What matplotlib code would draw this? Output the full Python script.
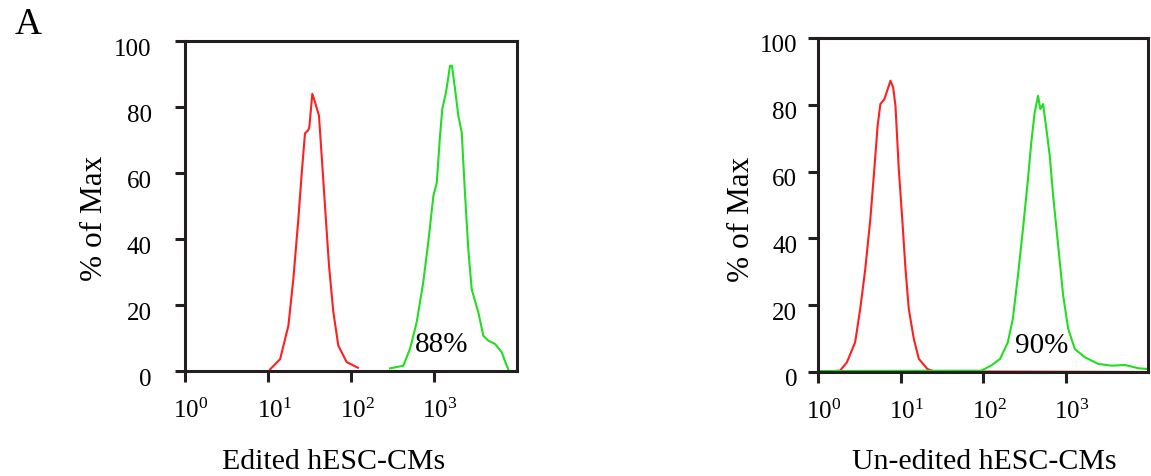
import numpy as np
import matplotlib
matplotlib.use("Agg")
from matplotlib import pyplot as plt
from matplotlib.ticker import NullLocator
from matplotlib.transforms import ScaledTranslation

plt.rcParams['font.family'] = ['Liberation Serif', 'DejaVu Serif']
plt.rcParams['mathtext.default'] = 'regular'

# Edited hESC-CMs (left panel)
edited_ctrl_x = [10.6, 14.0, 17.6, 20.2, 23.2, 25.5, 27.9, 30.6, 31.5, 34.2, 36.8, 41.1,
                 44.4, 48.6, 54.3, 61.2, 70.3, 88.7, 121]
edited_ctrl_y = [0.5, 3.6, 13.7, 27.9, 46, 60, 72, 73, 74, 84, 81.5, 77.4,
                 65, 50, 32, 18, 7.7, 2.7, 1]
edited_stain_x = [295, 427, 514, 619, 743, 853, 982, 1079, 1180, 1259, 1396, 1560, 1648,
                  1791, 1963, 2158, 2360, 2588, 2844, 3420, 3926, 4508, 5433, 6546, 7516, 7852]
edited_stain_y = [0.8, 1.6, 6.7, 14.8, 27, 39, 53, 57, 71, 79.4, 84.5, 92.5, 92.5,
                  85.5, 77.4, 72.3, 54, 37, 24.8, 17.8, 10.7, 9.2, 8.2, 5.7, 1.6, 0.6]

# Un-edited hESC-CMs (right panel)
unedited_ctrl_x = [1.0, 1.85, 2.24, 2.82, 3.25, 3.74, 4.31, 4.82, 5.28, 5.70, 6.38, 7.00,
                   7.55, 8.15, 8.69, 9.53, 10.5, 11.5, 12.6, 14.5, 16.7, 21.2, 25.5, 8000]
unedited_ctrl_y = [0, 0.4, 2.9, 8.9, 18.9, 30.8, 45.8, 60.8, 73.7, 80.2, 81.7, 84.7,
                   87.2, 85.2, 79.7, 60.8, 45.8, 30.8, 18.9, 9.9, 3.9, 0.9, 0.2, 0]
unedited_stain_x = [1.0, 54, 95, 125, 161, 200, 230, 265, 305, 351, 385, 423, 465, 495,
                    535, 586, 644, 708, 815, 938, 1079, 1297, 1718, 2506, 3639, 5284, 7709, 10000]
unedited_stain_y = [0.3, 0.4, 0.4, 1.9, 3.9, 8.9, 15.9, 28.8, 42.8, 57.8, 68.8, 77.7, 82.7,
                    78.7, 80.2, 72.8, 64.8, 52.8, 37.8, 22.8, 12.9, 6.9, 4.4, 2.4, 1.9, 2.1, 1.1, 0.9]

panel_labels = ["Edited hESC-CMs", "Un-edited hESC-CMs"]
percent_labels = ["88%", "90%"]
percent_pos = [(590, 6), (241, 6)]

x_ticks = [1, 10, 100, 1000]
x_tick_labels = [r'$10^{%d}$' % i for i in range(4)]
y_ticks = [0, 20, 40, 60, 80, 100]

red = '#ff1f1f'
green = '#22dd22'
dark = '#231f20'

fig = plt.figure(figsize=(11.51, 4.77), dpi=100)
W, H = 1151, 477
ax1 = fig.add_axes([185 / W, 1 - 372 / H, (517 - 185) / W, (372 - 42) / H])
ax2 = fig.add_axes([818 / W, 1 - 373 / H, (1148 - 818) / W, (373 - 39) / H])

ax1.plot(edited_ctrl_x, edited_ctrl_y, color=red, lw=1.5)
ax1.plot(edited_stain_x, edited_stain_y, color=green, lw=1.5)
ax2.plot(unedited_ctrl_x, unedited_ctrl_y, color=red, lw=1.5)
ax2.plot(unedited_stain_x, unedited_stain_y, color=green, lw=1.5)

for i, ax in enumerate([ax1, ax2]):
    ax.set_xscale('log')
    ax.set_xlim(1, 10000)
    ax.set_ylim(0, 100)
    ax.set_xticks(x_ticks)
    ax.set_xticklabels(x_tick_labels)
    ax.xaxis.set_minor_locator(NullLocator())
    ax.set_yticks(y_ticks)
    for s in ax.spines.values():
        s.set_linewidth(2.2)
        s.set_color(dark)
    ax.tick_params(axis='x', length=8, width=2.2, color=dark, pad=11, labelsize=18)
    ax.tick_params(axis='y', length=7, width=2.2, color=dark,
                   pad=17 if i == 0 else 8, labelsize=18)
    for lab in ax.get_xticklabels():
        lab.set_transform(lab.get_transform() + ScaledTranslation(6 / 100, 0, fig.dpi_scale_trans))
    for lab in ax.get_yticklabels():
        lab.set_transform(lab.get_transform() + ScaledTranslation(0, -5 / 100, fig.dpi_scale_trans))
    px, py = percent_pos[i]
    ax.text(px, py, percent_labels[i], fontsize=21, ha='left', va='baseline')

fig.text(334 / W, 1 - 462 / H, panel_labels[0], fontsize=21.5, ha='center', va='center')
fig.text(984 / W, 1 - 462 / H, panel_labels[1], fontsize=21.5, ha='center', va='center')
fig.text(94 / W, 1 - 218 / H, "% of Max", fontsize=22.5, rotation=90, ha='center', va='center')
fig.text(742 / W, 1 - 219 / H, "% of Max", fontsize=22.5, rotation=90, ha='center', va='center')
fig.text(28 / W, 1 - 25 / H, "A", fontsize=27, ha='center', va='center')

fig.savefig('out.png', dpi=100)
